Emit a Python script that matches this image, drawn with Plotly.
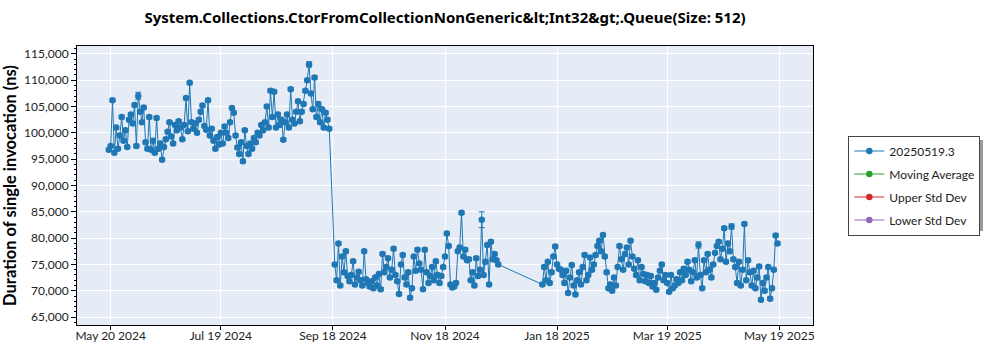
import pandas as pd
import plotly.graph_objects as go

# Benchmark run results (ns), one run per day, in three contiguous stretches
seg1_start = "2024-05-19"
seg1_values = [
    96800, 97500, 106200, 96200, 101000, 97000, 99500, 103000, 98500, 100500, 97300,
    102500, 103500, 101800, 105300, 97500, 107000, 104000, 102000, 104800, 98200,
    97000, 103000, 96800, 98500, 96200, 102800, 97000, 98000, 94900, 97300,
    98800, 100200, 102000, 99300, 98000, 101500, 100500, 102200, 101000, 98800,
    101500, 106600, 100300, 109500, 102000, 100800, 101800, 100000, 102500, 104000,
    105200, 101300, 100600, 106200, 99500, 100800, 98500, 97000, 99200, 97800,
    100000, 98000, 101200, 100000, 99000, 102000, 104700, 103800, 99500, 97200,
    96000, 98200, 94600, 100500, 97500, 96000, 98000, 97000, 99000, 98200,
    100000, 99500, 101500, 100500, 102000, 105000, 101000, 108000, 103000, 107800,
    101000, 103500, 101500, 102500, 98700, 102000, 103500, 101000, 108300, 102500,
    101800, 104000, 106000, 102200, 104000, 105500, 108000, 110000, 113000, 107500,
    104500, 110500, 103000, 105500, 102000, 104500, 101000, 103800, 102500, 100800,
]

seg2_start = "2024-09-19"
seg2_values = [
    75000, 72000, 79000, 71000, 76500, 73500, 77500, 72800, 71800, 73000,
    75600, 71200, 72500, 73600, 72000, 71000, 77500, 72200, 71500, 70800,
    71800, 70500, 72500, 71000, 73200, 70300, 77000, 73500, 74500, 76200,
    72500, 74000, 78000, 73000, 71800, 69400, 75000, 76800, 72500, 71200,
    73500, 68700, 70500, 76500, 73800, 77800, 75200, 74000, 70300, 77800,
    73500, 71500, 72800, 74500, 72000, 75600, 73000, 71500, 72800, 74500,
    76500, 80900, 78500, 71200, 70600, 70800, 71500, 77500, 78200, 84800,
    76500, 77800, 75800, 76000, 72000, 73500, 71000, 76200, 72800, 74000,
    83500, 73000, 75500, 78700, 71200, 79300, 76000, 77000, 75800, 75000,
]

seg3_start = "2025-01-10"
seg3_values = [
    71200, 74500, 72000, 75500, 71500, 73500, 76500, 78400, 75000, 74200,
    74000, 73000, 71500, 73800, 69600, 72500, 74900, 71000, 69300, 72000,
    73500, 71200, 74500, 76800, 72000, 73000, 76300, 74000, 75000, 76800,
    78500, 79500, 77500, 80600, 76500, 73500, 70500, 71200, 70000, 72500,
    71000, 74500, 78500, 76000, 74000, 77000, 78200, 75000, 79500, 76500,
    74200, 73000, 75800, 72000, 74500, 73200, 71800, 73000, 71500, 72800,
    70800, 71500, 70200, 72500, 73800, 75000, 72000, 73000, 71500, 69800,
    73000, 70500, 71000, 72200, 71500, 73500, 72000, 74200, 73000, 75500,
    74000, 71800, 73500, 75800, 72500, 78700, 73000, 70500, 75800, 73500,
    77000, 74000, 72500, 75000, 77200, 78500, 79300, 76000, 78000, 81900,
    75500, 79000, 77500, 82200, 76000, 74500, 71500, 75500, 71000, 74000,
    82700, 72000, 75800, 73500, 71000, 73800, 70500, 72500, 74600, 68300,
    71500, 70000, 72500, 74500, 68500, 70500, 74000, 80500, 79000,
]

# Standard deviation of each run (ns); runs not listed use the default
error_default = 300
error_by_date = {
    "2024-06-04": 700,
    "2024-09-05": 500,
    "2024-12-08": 1500,
    "2025-04-05": 600,
    "2025-04-23": 500,
    "2025-04-30": 300,
}

tick_dates = ["2024-05-20", "2024-07-19", "2024-09-18", "2024-11-18",
              "2025-01-18", "2025-03-19", "2025-05-19"]

chart_title = "System.Collections.CtorFromCollectionNonGeneric&amp;lt;Int32&amp;gt;.Queue(Size: 512)"
series_name = "20250519.3"
extra_series = [("Moving Average", "#2ca02c"),
                ("Upper Std Dev", "#d62728"),
                ("Lower Std Dev", "#9467bd")]

dates = []
values = []
for start, vals in [(seg1_start, seg1_values), (seg2_start, seg2_values), (seg3_start, seg3_values)]:
    dates.extend(pd.date_range(start, periods=len(vals), freq="D"))
    values.extend(vals)
errors = [error_by_date.get(d.strftime("%Y-%m-%d"), error_default) for d in dates]

blue = "#1f77b4"
font_family = "Lato, Noto Sans, sans-serif"
title_family = "Noto Sans, Open Sans, sans-serif"

fig = go.Figure()
fig.add_trace(go.Scatter(
    x=dates, y=values, name=series_name, mode="lines+markers",
    legendgroup="g0",
    line=dict(color=blue, width=1),
    marker=dict(color=blue, size=6.5),
    error_y=dict(type="data", array=errors, visible=True, color=blue, thickness=1, width=3),
))
for i, (name, color) in enumerate(extra_series, start=1):
    fig.add_trace(go.Scatter(
        x=[None], y=[None], name=name, mode="lines+markers", legendgroup=f"g{i}",
        line=dict(color=color, width=1), marker=dict(color=color, size=6.5),
    ))

# Legend frame drop shadow (plot-area fraction coordinates)
px_w, px_h = 736, 279
def fx(px):
    return (px - 77) / px_w
def fy(py):
    return (325 - py) / px_h

fig.add_shape(type="rect", xref="paper", yref="paper",
              x0=fx(851), x1=fx(983), y0=fy(231), y1=fy(140),
              line=dict(width=0), fillcolor="#999999", layer="above")

fig.update_layout(
    width=1000, height=350,
    margin=dict(l=77, r=187, t=46, b=25),
    paper_bgcolor="white",
    plot_bgcolor="#E5ECF6",
    font=dict(family=font_family, size=12, color="#222"),
    title=dict(
        text=chart_title,
        x=0.445, xref="container", xanchor="center",
        y=1 - 18 / 350, yref="container", yanchor="middle",
        font=dict(family=title_family, size=15, color="black", weight="bold"),
    ),
    showlegend=True,
    legend=dict(
        x=1.048, xanchor="left", y=0.5, yanchor="middle",
        bgcolor="white", bordercolor="#444", borderwidth=1,
        tracegroupgap=4,
        font=dict(family=font_family, size=12, color="#222"),
    ),
)

fig.update_xaxes(
    range=["2024-05-01 16:00", "2025-06-06 08:00"],
    tickvals=tick_dates, tickformat="%b %d %Y",
    showgrid=True, gridcolor="white", gridwidth=1,
    showline=True, linecolor="black", linewidth=1, mirror=True,
    ticks="outside", ticklen=4, tickcolor="black", ticklabelstandoff=-4,
    zeroline=False, automargin=False,
)
fig.update_yaxes(
    range=[63500, 116500], dtick=5000, tick0=65000, tickformat=",d",
    showgrid=True, gridcolor="white", gridwidth=1,
    showline=True, linecolor="black", linewidth=1, mirror=True,
    ticks="outside", ticklen=5, tickcolor="black",
    minor=dict(dtick=1000, ticks="outside", ticklen=2, tickcolor="black", showgrid=False),
    zeroline=False, automargin=False,
    title=dict(text="Duration of single invocation (ns)",
               font=dict(family=font_family, size=16.5, color="black", weight="bold"),
               standoff=5),
)

fig.write_html("out.html")
